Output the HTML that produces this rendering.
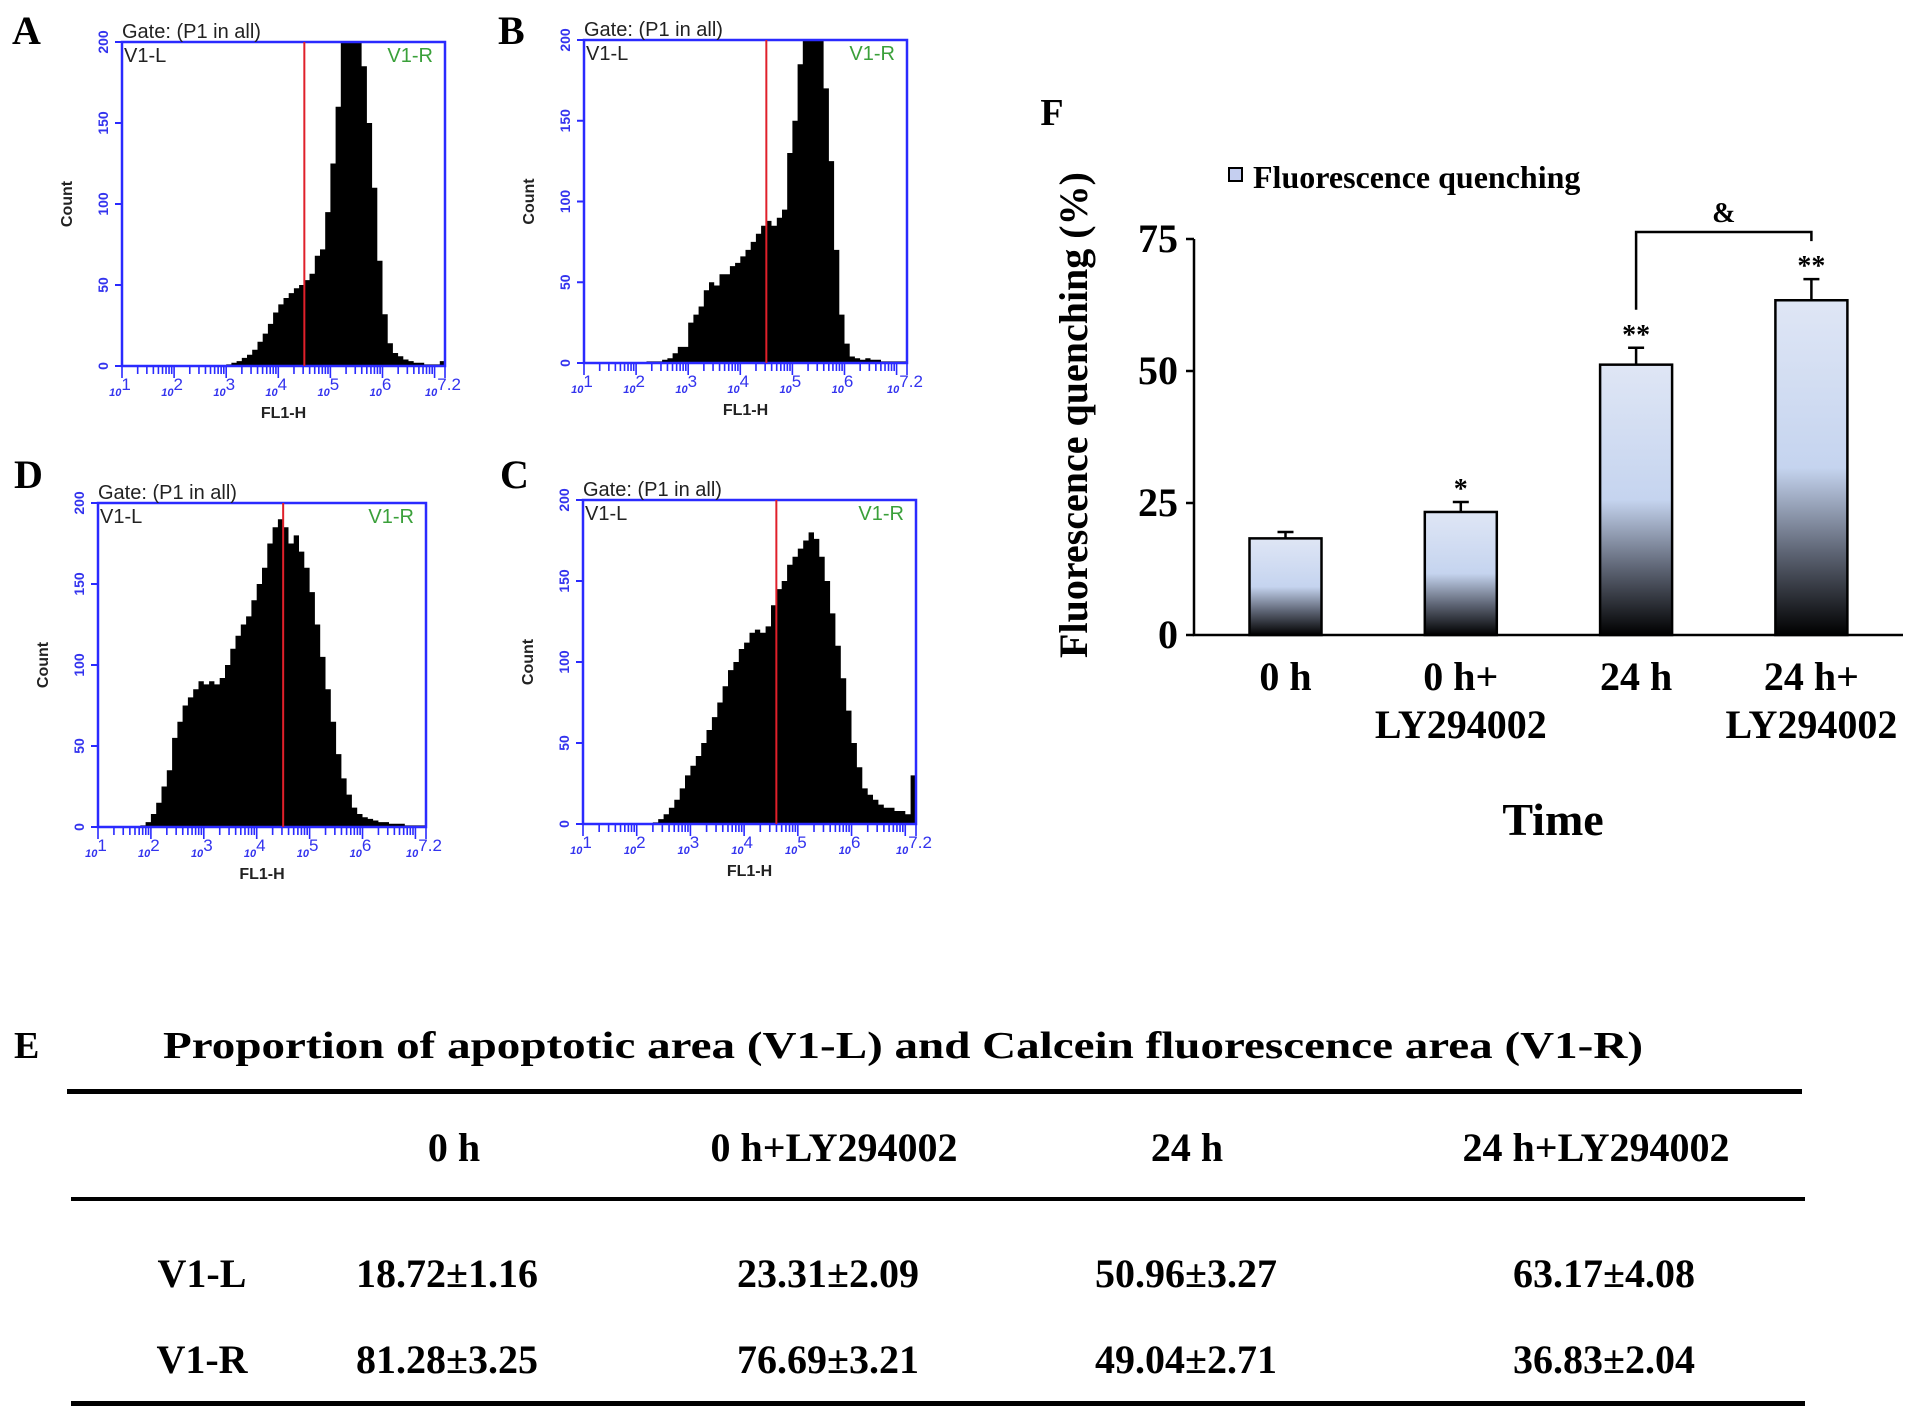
<!DOCTYPE html>
<html><head><meta charset="utf-8"><style>
html,body{margin:0;padding:0;background:#fff;}
svg{display:block;}
</style></head><body>
<svg id="fig" width="1913" height="1422" viewBox="0 0 1913 1422" xmlns="http://www.w3.org/2000/svg">
<defs>
<linearGradient id="barGrad" x1="0" y1="0" x2="0" y2="1">
<stop offset="0" stop-color="#dfe6f5"/><stop offset="0.5" stop-color="#c5d4ef"/><stop offset="0.75" stop-color="#5f6676"/><stop offset="1" stop-color="#000"/>
</linearGradient>
</defs>
<g id="hists"></g>
<g id="barchart"></g>
<g id="table" font-family="Liberation Serif, serif" font-weight="bold" fill="#000">
<text x="14" y="1058" font-size="38">E</text>
<text x="903" y="1058" font-size="38" text-anchor="middle" textLength="1480" lengthAdjust="spacingAndGlyphs">Proportion of apoptotic area (V1-L) and Calcein fluorescence area (V1-R)</text>
<rect x="67" y="1089" width="1735" height="5"/>
<rect x="71" y="1197" width="1734" height="4"/>
<rect x="71" y="1401" width="1734" height="5"/>
<g font-size="40" text-anchor="middle">
<text x="454" y="1161">0 h</text>
<text x="834" y="1161">0 h+LY294002</text>
<text x="1187" y="1161">24 h</text>
<text x="1596" y="1161">24 h+LY294002</text>
<text x="202" y="1287">V1-L</text>
<text x="447" y="1287">18.72±1.16</text>
<text x="828" y="1287">23.31±2.09</text>
<text x="1186" y="1287">50.96±3.27</text>
<text x="1604" y="1287">63.17±4.08</text>
<text x="202" y="1373">V1-R</text>
<text x="447" y="1373">81.28±3.25</text>
<text x="828" y="1373">76.69±3.21</text>
<text x="1186" y="1373">49.04±2.71</text>
<text x="1604" y="1373">36.83±2.04</text>
</g>
</g>
</svg>
<script>
// ---- histogram data: counts per 0.1-decade bin, bins starting at 10^1.0 ----
const binStart = 1.0;
const binStep = 0.1;
const countsA = [0,0,0,0,0,0,0,0,0,0,0,0,0,0,0,0,0,0,0,0,1,2,3,5,7,10,15,20,26,33,38,42,45,48,50,53,57,68,72,95,125,160,205,210,210,205,185,150,110,65,32,14,8,6,4,3,2,2,1,1,1,3];
const countsB = [0,0,0,0,0,0,0,0,0,0,0,0,1,1,1,2,3,6,10,10,25,30,35,45,50,48,55,55,60,62,66,70,75,80,85,88,85,90,95,130,150,185,205,210,210,200,170,125,70,30,12,4,3,2,3,2,2,1,1,1,1,1];
const countsD = [0,0,0,0,0,0,0,0,1,3,8,15,25,35,55,65,75,80,85,90,88,90,88,92,100,110,118,125,130,140,150,160,175,185,190,185,175,180,170,160,145,125,105,85,65,45,30,20,12,8,6,5,4,3,3,2,2,2,1,1,1,1];
const countsC = [0,0,0,0,0,0,0,0,0,0,0,0,0,1,3,6,10,15,22,30,36,42,50,58,66,75,85,95,100,108,112,118,120,118,122,135,145,150,160,165,170,175,180,176,165,150,130,110,90,70,50,35,22,18,15,12,10,10,8,8,6,30];
const gates = [4.5, 4.5, 4.5, 4.6];
const yTicks = [0,50,100,150,200];
const xTickDecades = [1,2,3,4,5,6,7.2];

const NS = "http://www.w3.org/2000/svg";
function mk(tag, attrs, parent){const e=document.createElementNS(NS,tag);for(const k in attrs)e.setAttribute(k,attrs[k]);if(parent)parent.appendChild(e);return e;}

const panelLayout = [
  {letter:'A', L:122, R:445, T:42, B:366, lx:12, ly:44, counts:countsA, gate:gates[0]},
  {letter:'B', L:584, R:907, T:40, B:363, lx:498, ly:44, counts:countsB, gate:gates[1]},
  {letter:'D', L:98, R:426, T:503, B:827, lx:14, ly:488, counts:countsD, gate:gates[2]},
  {letter:'C', L:583, R:916, T:500, B:824, lx:500, ly:488, counts:countsC, gate:gates[3]},
];
const hg = document.getElementById('hists');
panelLayout.forEach(p=>{
  const g = mk('g',{},hg);
  
  
  const xs = d => p.L + (d-1)/6.2*(p.R-p.L);
  const ys = c => p.B - Math.min(c,200)/200*(p.B-p.T);
  const lt = mk('text',{x:p.lx,y:p.ly,'font-family':'Liberation Serif, serif','font-weight':'bold','font-size':40},g);
  lt.textContent=p.letter;
  
  
  let d = 'M'+xs(binStart)+','+p.B;
  p.counts.forEach((c,i)=>{
    const x0=xs(binStart+i*binStep), x1=xs(binStart+(i+1)*binStep);
    d += ' L'+x0.toFixed(1)+','+ys(c).toFixed(1)+' L'+x1.toFixed(1)+','+ys(c).toFixed(1);
  });
  d += ' L'+xs(7.2)+','+p.B+' Z';
  const hp = mk('path',{d:d,fill:'#000'},g);
  
  
  const bx = mk('rect',{x:p.L,y:p.T,width:p.R-p.L,height:p.B-p.T,fill:'none',stroke:'#2a2aff','stroke-width':2.5},g);
  
  
  const gl = mk('line',{x1:xs(p.gate),x2:xs(p.gate),y1:p.T,y2:p.B,stroke:'#e0202a','stroke-width':2},g);
  
  
  const gt = mk('text',{x:p.L,y:p.T-4,'font-family':'Liberation Sans, sans-serif','font-size':20,fill:'#222'},g);
  gt.textContent='Gate: (P1 in all)';
  
  
  const vl = mk('text',{x:p.L+2,y:p.T+20,'font-family':'Liberation Sans, sans-serif','font-size':20,fill:'#222'},g);
  vl.textContent='V1-L';
  
  
  const vr = mk('text',{x:p.R-12,y:p.T+20,'text-anchor':'end','font-family':'Liberation Sans, sans-serif','font-size':20,fill:'#3aa03a'},g);
  vr.textContent='V1-R';
  
  
  yTicks.forEach(t=>{
    const y=ys(t);
    mk('line',{x1:p.L-7,x2:p.L,y1:y,y2:y,stroke:'#2a2aff','stroke-width':2},g);
    const tt = mk('text',{x:0,y:0,transform:`translate(${p.L-14},${y}) rotate(-90)`,'text-anchor':'middle','font-family':'Liberation Sans, sans-serif','font-size':14,'font-weight':'bold',fill:'#3333ee'},g);
    tt.textContent=t;
    
    
  });
  const ct = mk('text',{x:0,y:0,transform:`translate(${p.L-50},${(p.T+p.B)/2}) rotate(-90)`,'text-anchor':'middle','font-family':'Liberation Sans, sans-serif','font-size':16,'font-weight':'bold',fill:'#222'},g);
  ct.textContent='Count';
  
  
  for(let dec=1; dec<7.2; dec++){
    for(let m=1;m<=9;m++){
      const v = dec+Math.log10(m); if(v>7.2) break;
      const x=xs(v);
      mk('line',{x1:x,x2:x,y1:p.B,y2:p.B+(m===1?12:8),stroke:'#2a2aff','stroke-width':1.6},g);
    }
  }
  mk('line',{x1:xs(7.2),x2:xs(7.2),y1:p.B,y2:p.B+12,stroke:'#2a2aff','stroke-width':1.6},g);
  xTickDecades.forEach(dv=>{
    const tx = mk('text',{x:xs(dv)-2,y:p.B+30,'text-anchor':'middle','font-family':'Liberation Sans, sans-serif','font-size':11,'font-weight':'bold','font-style':'italic',fill:'#3333ee'},g);
    tx.textContent='10';
    const sup = mk('tspan',{dy:-6,'font-size':17,'font-style':'normal','font-weight':'normal'},tx);
    sup.textContent=String(dv);
    
    
  });
  const xt = mk('text',{x:(p.L+p.R)/2,y:p.B+52,'text-anchor':'middle','font-family':'Liberation Sans, sans-serif','font-size':16,'font-weight':'bold',fill:'#222'},g);
  xt.textContent='FL1-H';
  
  
});

// ---- bar chart F ----
const categories1 = ['0 h','0 h+','24 h','24 h+'];
const categories2 = ['','LY294002','','LY294002'];
const means = [18.3, 23.3, 51.2, 63.4];
const errors = [1.2, 1.9, 3.2, 4.0];
const stars = ['', '*', '**', '**'];
const fTicks = [0,25,50,75];

const bg = document.getElementById('barchart');
const AX_L=1194, AX_R=1903, AX_B=635, PX_PER=5.28;
const fy = v => AX_B - v*PX_PER;
const fx = i => 1285.5 + i*175.3;
const BW = 72;
const SERIF = 'Liberation Serif, serif';
function t(x,y,s,size,name,extra){const e=mk('text',Object.assign({x:x,y:y,'font-family':SERIF,'font-weight':'bold','font-size':size,'text-anchor':'middle'},extra||{}),bg);e.textContent=s;return e;}
t(1052,125,'F',38,'panel-label-f');
const ax = mk('path',{d:`M${AX_L},${fy(75)} L${AX_L},${AX_B} L${AX_R},${AX_B}`,fill:'none',stroke:'#000','stroke-width':2.5},bg);


fTicks.forEach(v=>{
  mk('line',{x1:AX_L-8,x2:AX_L,y1:fy(v),y2:fy(v),stroke:'#000','stroke-width':2.5},bg);
  t(AX_L-16,fy(v)+13,String(v),40,'y-tick-label',{'text-anchor':'end'});
});
t(0,0,'Fluorescence quenching (%)',40,'y-axis-title',{transform:'translate(1087,415) rotate(-90)'});
means.forEach((m,i)=>{
  const cx=fx(i);
  const r = mk('rect',{x:cx-BW/2,y:fy(m),width:BW,height:AX_B-fy(m),fill:'url(#barGrad)',stroke:'#000','stroke-width':2.5},bg);
  
  
  const e = mk('path',{d:`M${cx},${fy(m)} L${cx},${fy(m+errors[i])} M${cx-8},${fy(m+errors[i])} L${cx+8},${fy(m+errors[i])}`,stroke:'#000','stroke-width':2.5,fill:'none'},bg);
  
  
  if(stars[i]) t(cx,fy(m+errors[i])-4,stars[i],28,'significance-star-'+i);
  t(cx,690,categories1[i],40,'x-tick-label');
  if(categories2[i]) t(cx,738,categories2[i],40,'x-tick-label-line2');
});
const top3 = fy(means[2]+errors[2]), top4 = fy(means[3]+errors[3]);
const br = mk('path',{d:`M${fx(2)},${top3-38} L${fx(2)},232 L${fx(3)},232 L${fx(3)},${top4-38}`,fill:'none',stroke:'#000','stroke-width':2.5},bg);


t((fx(2)+fx(3))/2,222,'&',28,'bracket-symbol');
t(1553,835,'Time',46,'x-axis-title');
const ls = mk('rect',{x:1229,y:168,width:13,height:13,fill:'#c5cff0',stroke:'#000','stroke-width':2},bg);


t(1253,188,'Fluorescence quenching',32,'legend-label',{'text-anchor':'start'});
</script>
</body></html>
